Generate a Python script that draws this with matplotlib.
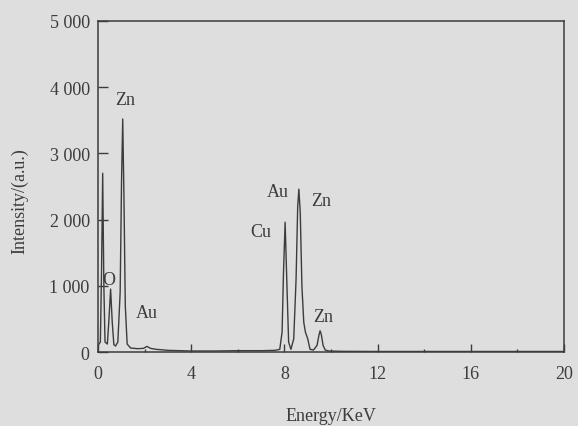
import matplotlib
matplotlib.use("Agg")
import matplotlib.pyplot as plt
from matplotlib.ticker import MultipleLocator, FuncFormatter

plt.rcParams["font.family"] = ["Liberation Serif", "DejaVu Serif"]

# traced EDS spectrum (energy in keV, counts)
energy = [0.0, 0.1, 0.15, 0.2, 0.25, 0.3, 0.4, 0.47, 0.54, 0.61, 0.68, 0.75,
          0.85, 0.95, 1.01, 1.06, 1.11, 1.17, 1.25, 1.4, 1.7, 1.95, 2.1, 2.25,
          2.5, 3.0, 3.5, 4.0, 5.0, 6.0, 7.0, 7.6, 7.8, 7.9, 7.96, 8.03, 8.1,
          8.18, 8.28, 8.4, 8.5, 8.57, 8.62, 8.68, 8.75, 8.83, 8.9, 9.0, 9.1,
          9.25, 9.4, 9.48, 9.53, 9.58, 9.66, 9.75, 9.9, 10.5, 12.0, 14.0,
          16.0, 18.0, 20.0]
counts = [100, 150, 1200, 2700, 1000, 150, 120, 500, 950, 450, 110, 90,
          150, 900, 2600, 3520, 2400, 700, 120, 60, 50, 55, 85, 55,
          40, 25, 20, 15, 15, 20, 20, 25, 40, 300, 1200, 1960, 1100,
          150, 40, 200, 1100, 2200, 2460, 2100, 1000, 450, 300, 200, 40,
          30, 100, 250, 320, 270, 100, 30, 15, 10, 8, 8,
          8, 8, 8]

# peak labels
peak_names = ["Zn", "O", "Au", "Cu", "Au", "Zn", "Zn"]
peak_x = [1.16, 0.47, 2.1, 7.0, 7.73, 9.57, 9.66]
peak_y = [3807, 1102, 604, 1827, 2429, 2296, 529]

bg = "#dedede"
ink = "#3c3c3c"

fig = plt.figure(figsize=(5.78, 4.27), dpi=100, facecolor=bg)
ax = fig.add_axes([0.1696, 0.1733, 0.8062, 0.7752], facecolor=bg)

ax.plot(energy, counts, color=ink, lw=1.0)

for name, x, y in zip(peak_names, peak_x, peak_y):
    ax.text(x, y, name, ha="center", va="center", fontsize=13, color=ink)

ax.set_xlim(0, 20)
ax.set_ylim(0, 5000)
ax.xaxis.set_major_locator(MultipleLocator(4))
ax.xaxis.set_minor_locator(MultipleLocator(2))
ax.yaxis.set_major_locator(MultipleLocator(1000))
ax.yaxis.set_major_formatter(FuncFormatter(lambda v, p: f"{int(v):,}".replace(",", " ")))

ax.tick_params(axis="x", which="major", direction="in", length=6, width=1,
               color=ink, labelcolor=ink, labelsize=13, pad=9)
ax.tick_params(axis="x", which="minor", direction="in", length=2.5, width=1, color=ink)
ax.tick_params(axis="y", which="major", direction="in", length=7, width=1,
               color=ink, labelcolor=ink, labelsize=13, pad=6)
for s in ax.spines.values():
    s.set_color(ink)
    s.set_linewidth(1.1)

ax.set_xlabel("Energy/KeV", fontsize=13, color=ink)
ax.set_ylabel("Intensity/(a.u.)", fontsize=13, color=ink)
ax.xaxis.set_label_coords(0.5, -0.165)
ax.yaxis.set_label_coords(-0.15, 0.46)

fig.savefig("out.png", dpi=100, facecolor=bg)
